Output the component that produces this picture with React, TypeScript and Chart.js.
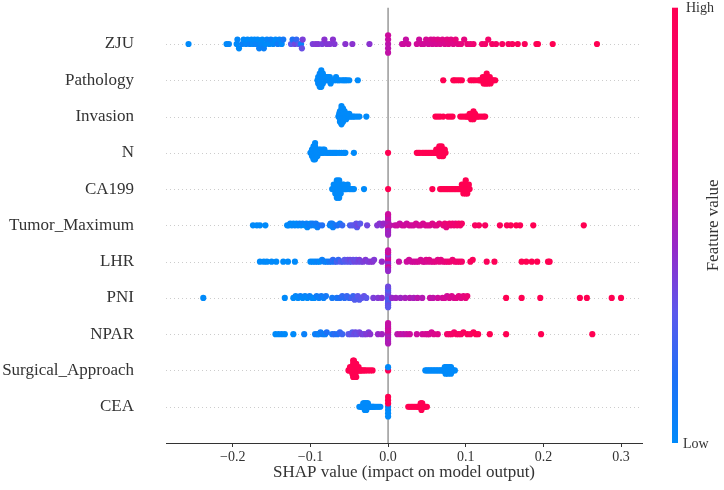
import React, { useEffect, useRef } from "react";
import { Chart, registerables } from "chart.js";
Chart.register(...registerables);

// rows listed from bottom (index 0) to top
const FEATURES = ["CEA", "Surgical_Approach", "NPAR", "PNI", "LHR", "Tumor_Maximum", "CA199", "N", "Invasion", "Pathology", "ZJU"];
const X_TICKS = [-0.2, -0.1, 0.0, 0.1, 0.2, 0.3];
const X_MIN = -0.286;
const X_MAX = 0.327;

// [SHAP value, normalized feature value (0 = low, 1 = high)]
const ZJU: [number, number][] = [
  [-0.257, 0], [-0.208, 0], [-0.205, 0.02],
  [-0.195, 0], [-0.194, 0.02], [-0.192, 0], [-0.188, 0.05], [-0.186, 0], [-0.183, 0.03], [-0.181, 0], [-0.178, 0.05], [-0.176, 0], [-0.174, 0.02],
  [-0.172, 0], [-0.170, 0.04], [-0.168, 0], [-0.166, 0.05], [-0.164, 0.02], [-0.162, 0], [-0.160, 0.06], [-0.158, 0], [-0.156, 0.03], [-0.153, 0],
  [-0.151, 0.05], [-0.148, 0.02], [-0.145, 0], [-0.142, 0.08], [-0.140, 0.03], [-0.137, 0], [-0.135, 0.1],
  [-0.125, 0.3], [-0.123, 0.15], [-0.120, 0.35], [-0.118, 0.2], [-0.115, 0.3], [-0.112, 0.05], [-0.110, 0.38], [-0.111, 0.33],
  [-0.097, 0.38], [-0.093, 0.4], [-0.090, 0.4], [-0.085, 0.38], [-0.082, 0.42], [-0.079, 0.4], [-0.075, 0.4], [-0.071, 0.42], [-0.069, 0.4],
  [-0.055, 0.42], [-0.046, 0.42], [-0.024, 0.42],
  [0, 0.55], [0, 0.58], [0, 0.55], [0, 0.6], [0, 0.57],
  [0.018, 0.58], [0.020, 0.6], [0.023, 0.58], [0.026, 0.6],
  [0.037, 0.62], [0.040, 0.6], [0.043, 0.63], [0.046, 0.62], [0.049, 0.65], [0.052, 0.62], [0.055, 0.66], [0.057, 0.64], [0.059, 0.68], [0.062, 0.65],
  [0.064, 0.7], [0.067, 0.66], [0.070, 0.7], [0.073, 0.68], [0.076, 0.72], [0.078, 0.7], [0.081, 0.72], [0.084, 0.7], [0.087, 0.75], [0.090, 0.72],
  [0.094, 0.75], [0.098, 0.74], [0.102, 0.78], [0.106, 0.76], [0.110, 0.8],
  [0.121, 0.82], [0.125, 0.85], [0.129, 0.85], [0.134, 0.88], [0.139, 0.87], [0.147, 0.9],
  [0.155, 0.9], [0.160, 0.92], [0.167, 0.95], [0.176, 0.95], [0.191, 0.95], [0.193, 1], [0.212, 1], [0.269, 1],
];

const PATHOLOGY: [number, number][] = [
  [-0.091, 0], [-0.090, 0], [-0.090, 0.02], [-0.089, 0], [-0.089, 0], [-0.088, 0], [-0.088, 0.03], [-0.088, 0], [-0.087, 0], [-0.087, 0],
  [-0.087, 0.02], [-0.086, 0], [-0.086, 0], [-0.086, 0], [-0.085, 0], [-0.085, 0.02], [-0.084, 0], [-0.084, 0],
  [-0.082, 0], [-0.081, 0], [-0.080, 0], [-0.079, 0], [-0.078, 0.02], [-0.077, 0], [-0.076, 0], [-0.075, 0], [-0.074, 0], [-0.073, 0],
  [-0.071, 0], [-0.069, 0], [-0.067, 0], [-0.066, 0], [-0.064, 0], [-0.062, 0],
  [-0.059, 0], [-0.057, 0], [-0.055, 0], [-0.053, 0], [-0.050, 0], [-0.039, 0],
  [0.071, 1], [0.084, 1], [0.086, 1], [0.089, 1], [0.092, 1], [0.095, 1], [0.106, 1], [0.109, 1], [0.112, 1],
  [0.116, 1], [0.118, 1], [0.119, 1], [0.121, 1], [0.122, 1], [0.123, 1], [0.124, 1], [0.125, 1], [0.125, 1], [0.126, 1], [0.126, 1],
  [0.127, 1], [0.127, 1], [0.128, 1], [0.128, 1], [0.129, 1], [0.130, 1], [0.131, 1], [0.132, 1], [0.134, 1], [0.136, 1], [0.138, 1],
];

const INVASION: [number, number][] = [
  [-0.064, 0], [-0.063, 0], [-0.063, 0], [-0.062, 0], [-0.062, 0], [-0.062, 0], [-0.061, 0], [-0.061, 0], [-0.061, 0], [-0.061, 0],
  [-0.060, 0], [-0.060, 0], [-0.060, 0], [-0.060, 0], [-0.059, 0], [-0.059, 0], [-0.059, 0], [-0.058, 0], [-0.058, 0], [-0.058, 0],
  [-0.057, 0], [-0.057, 0], [-0.056, 0], [-0.056, 0], [-0.055, 0], [-0.055, 0], [-0.054, 0], [-0.053, 0], [-0.052, 0], [-0.051, 0],
  [-0.050, 0], [-0.049, 0], [-0.047, 0], [-0.045, 0], [-0.043, 0], [-0.040, 0], [-0.037, 0], [-0.028, 0],
  [0.061, 1], [0.064, 1], [0.067, 1], [0.071, 1], [0.077, 1], [0.080, 1], [0.083, 1], [0.093, 1], [0.096, 1], [0.099, 1],
  [0.101, 1], [0.103, 1], [0.104, 1], [0.105, 1], [0.106, 1], [0.107, 1], [0.107, 1], [0.108, 1], [0.108, 1], [0.109, 1],
  [0.109, 1], [0.110, 1], [0.110, 1], [0.111, 1], [0.112, 1], [0.113, 1], [0.115, 1], [0.117, 1], [0.120, 1], [0.123, 1], [0.125, 1],
];

const N_STAGE: [number, number][] = [
  [-0.100, 0], [-0.099, 0], [-0.098, 0], [-0.098, 0], [-0.097, 0], [-0.097, 0], [-0.096, 0], [-0.096, 0], [-0.096, 0], [-0.095, 0],
  [-0.095, 0], [-0.095, 0], [-0.094, 0], [-0.094, 0], [-0.094, 0], [-0.093, 0], [-0.093, 0], [-0.092, 0], [-0.092, 0], [-0.091, 0],
  [-0.090, 0], [-0.089, 0], [-0.088, 0], [-0.087, 0], [-0.086, 0], [-0.085, 0], [-0.084, 0], [-0.083, 0], [-0.082, 0], [-0.080, 0],
  [-0.078, 0], [-0.076, 0], [-0.074, 0], [-0.072, 0], [-0.070, 0], [-0.068, 0], [-0.066, 0], [-0.063, 0], [-0.060, 0], [-0.057, 0],
  [-0.055, 0], [-0.044, 0],
  [0, 1],
  [0.037, 1], [0.039, 1], [0.041, 1], [0.044, 1], [0.046, 1], [0.048, 1], [0.050, 1], [0.052, 1], [0.054, 1], [0.056, 1],
  [0.058, 1], [0.060, 1], [0.061, 1], [0.062, 1], [0.063, 1], [0.064, 1], [0.065, 1], [0.065, 1], [0.066, 1], [0.066, 1],
  [0.067, 1], [0.067, 1], [0.068, 1], [0.068, 1], [0.069, 1], [0.069, 1], [0.070, 1], [0.070, 1], [0.071, 1], [0.072, 1], [0.073, 1], [0.074, 1],
];

const CA199: [number, number][] = [
  [-0.072, 0], [-0.071, 0], [-0.070, 0], [-0.069, 0], [-0.068, 0], [-0.068, 0], [-0.067, 0], [-0.067, 0], [-0.066, 0], [-0.066, 0],
  [-0.066, 0], [-0.065, 0], [-0.065, 0], [-0.065, 0], [-0.064, 0], [-0.064, 0], [-0.064, 0], [-0.063, 0], [-0.063, 0], [-0.062, 0],
  [-0.062, 0], [-0.061, 0], [-0.060, 0], [-0.059, 0], [-0.058, 0], [-0.057, 0], [-0.056, 0], [-0.055, 0], [-0.053, 0], [-0.052, 0],
  [-0.050, 0], [-0.048, 0], [-0.046, 0], [-0.044, 0], [-0.031, 0],
  [0, 1],
  [0.057, 1], [0.067, 1], [0.069, 1], [0.071, 1], [0.073, 1], [0.075, 1], [0.077, 1], [0.079, 1], [0.081, 1], [0.083, 1],
  [0.085, 1], [0.087, 1], [0.089, 1], [0.091, 1], [0.093, 1], [0.094, 1], [0.095, 1], [0.096, 1], [0.097, 1], [0.097, 1],
  [0.098, 1], [0.098, 1], [0.099, 1], [0.099, 1], [0.100, 1], [0.100, 1], [0.101, 1], [0.101, 1], [0.102, 1], [0.103, 1], [0.104, 1], [0.105, 1],
];

const TUMOR_MAXIMUM: [number, number][] = [
  [-0.174, 0], [-0.169, 0], [-0.165, 0], [-0.158, 0],
  [-0.130, 0], [-0.128, 0], [-0.126, 0.02], [-0.124, 0], [-0.122, 0], [-0.120, 0.03], [-0.118, 0], [-0.116, 0], [-0.114, 0.05], [-0.112, 0], [-0.110, 0.05],
  [-0.107, 0], [-0.105, 0.05], [-0.104, 0], [-0.102, 0.08], [-0.100, 0], [-0.099, 0.05], [-0.097, 0.1], [-0.095, 0.05], [-0.093, 0.1], [-0.091, 0.05],
  [-0.089, 0.1], [-0.085, 0.15],
  [-0.075, 0.05], [-0.074, 0.1], [-0.073, 0], [-0.072, 0.08], [-0.071, 0.05], [-0.068, 0.1], [-0.065, 0.15], [-0.062, 0.1], [-0.059, 0.2],
  [-0.049, 0.25], [-0.046, 0.3], [-0.043, 0.3], [-0.041, 0.32], [-0.040, 0.28], [-0.039, 0.35], [-0.036, 0.3],
  [-0.027, 0.35], [-0.014, 0.4], [-0.011, 0.42], [-0.008, 0.4], [-0.006, 0.45],
  [0, 0.45], [0, 0.5], [0, 0.55], [0, 0.48], [0, 0.6], [0, 0.52], [0, 0.45], [0, 0.58], [0, 0.5], [0, 0.55], [0, 0.47], [0, 0.6],
  [0.003, 0.55], [0.009, 0.58], [0.012, 0.6], [0.015, 0.58], [0.018, 0.6], [0.021, 0.62], [0.024, 0.6], [0.027, 0.62], [0.030, 0.63], [0.033, 0.62],
  [0.036, 0.65], [0.039, 0.63], [0.042, 0.65], [0.045, 0.66], [0.048, 0.65], [0.051, 0.68], [0.054, 0.66], [0.057, 0.7], [0.060, 0.68], [0.063, 0.7], [0.066, 0.72],
  [0.071, 0.75], [0.073, 0.78], [0.075, 0.72], [0.077, 0.75], [0.079, 0.8], [0.081, 0.78], [0.083, 0.82], [0.085, 0.8], [0.087, 0.78], [0.089, 0.82],
  [0.091, 0.85], [0.093, 0.82], [0.095, 0.88],
  [0.112, 0.9], [0.117, 0.92], [0.125, 0.9], [0.144, 0.95], [0.153, 0.95], [0.158, 0.97], [0.165, 1], [0.170, 0.97], [0.187, 1], [0.252, 1],
];

const LHR: [number, number][] = [
  [-0.165, 0], [-0.160, 0], [-0.156, 0], [-0.150, 0], [-0.144, 0], [-0.135, 0], [-0.129, 0], [-0.120, 0],
  [-0.100, 0], [-0.097, 0.02], [-0.094, 0], [-0.091, 0.05], [-0.088, 0], [-0.085, 0.05], [-0.082, 0.08], [-0.079, 0.05], [-0.076, 0.1],
  [-0.073, 0.12], [-0.071, 0.2], [-0.069, 0.15], [-0.066, 0.25], [-0.064, 0.2], [-0.061, 0.28], [-0.058, 0.25], [-0.056, 0.3], [-0.054, 0.28],
  [-0.052, 0.32], [-0.050, 0.3], [-0.049, 0.35], [-0.047, 0.3], [-0.045, 0.33], [-0.043, 0.35], [-0.041, 0.32], [-0.039, 0.35], [-0.037, 0.38],
  [-0.035, 0.35], [-0.032, 0.38], [-0.029, 0.4], [-0.026, 0.38], [-0.023, 0.4], [-0.020, 0.42], [-0.018, 0.4],
  [-0.008, 0.45],
  [0, 0.4], [0, 0.6], [0, 0.45], [0, 0.65], [0, 0.42], [0, 0.55], [0, 0.62], [0, 0.4], [0, 0.5], [0, 0.65], [0, 0.45], [0, 0.58],
  [0.014, 0.58], [0.024, 0.6], [0.027, 0.62], [0.030, 0.6], [0.033, 0.63], [0.036, 0.62], [0.039, 0.65], [0.042, 0.64], [0.045, 0.66], [0.047, 0.65],
  [0.049, 0.68], [0.051, 0.66], [0.053, 0.7], [0.055, 0.68], [0.058, 0.7], [0.061, 0.72], [0.064, 0.7], [0.066, 0.74], [0.068, 0.72], [0.071, 0.75],
  [0.074, 0.76], [0.077, 0.78], [0.080, 0.8], [0.083, 0.78], [0.086, 0.82], [0.089, 0.8], [0.092, 0.84], [0.095, 0.85],
  [0.106, 0.92], [0.109, 0.95], [0.127, 0.95], [0.137, 0.97], [0.172, 1], [0.178, 1], [0.185, 1], [0.192, 1], [0.206, 1], [0.208, 1],
];

const PNI: [number, number][] = [
  [-0.238, 0], [-0.133, 0], [-0.122, 0], [-0.119, 0.02], [-0.116, 0], [-0.113, 0.05], [-0.110, 0], [-0.107, 0.03], [-0.104, 0], [-0.101, 0.05],
  [-0.098, 0.02], [-0.095, 0], [-0.092, 0.08], [-0.089, 0.05], [-0.086, 0.1], [-0.083, 0.05], [-0.080, 0.1],
  [-0.072, 0.1], [-0.066, 0.12],
  [-0.062, 0.15], [-0.059, 0.2], [-0.056, 0.18], [-0.053, 0.22], [-0.050, 0.2], [-0.047, 0.25], [-0.045, 0.22], [-0.043, 0.28], [-0.041, 0.25],
  [-0.039, 0.3], [-0.037, 0.28], [-0.034, 0.3], [-0.031, 0.32], [-0.028, 0.3],
  [-0.019, 0.38], [-0.013, 0.4], [-0.008, 0.42],
  [0, 0.28], [0, 0.3], [0, 0.25], [0, 0.32], [0, 0.28], [0, 0.35], [0, 0.26], [0, 0.3], [0, 0.33], [0, 0.27], [0, 0.3], [0, 0.35],
  [0.005, 0.45], [0.010, 0.48], [0.016, 0.47], [0.022, 0.5], [0.028, 0.52], [0.033, 0.5], [0.038, 0.55], [0.044, 0.53], [0.054, 0.58], [0.058, 0.56],
  [0.064, 0.6], [0.070, 0.62], [0.073, 0.65], [0.076, 0.63], [0.079, 0.66], [0.082, 0.68], [0.085, 0.66], [0.088, 0.7], [0.091, 0.72], [0.094, 0.7],
  [0.097, 0.74], [0.100, 0.75], [0.102, 0.78],
  [0.152, 1], [0.172, 1], [0.196, 1], [0.247, 1], [0.256, 1], [0.288, 1], [0.300, 1],
];

const NPAR: [number, number][] = [
  [-0.145, 0], [-0.141, 0], [-0.137, 0.02], [-0.133, 0], [-0.122, 0], [-0.108, 0.05], [-0.094, 0.05], [-0.091, 0.1], [-0.089, 0.02], [-0.087, 0.08],
  [-0.084, 0.1], [-0.081, 0.05], [-0.079, 0.15],
  [-0.072, 0.12], [-0.069, 0.18], [-0.065, 0.15], [-0.062, 0.2], [-0.059, 0.22],
  [-0.051, 0.3], [-0.048, 0.32], [-0.046, 0.28], [-0.044, 0.33], [-0.042, 0.35], [-0.040, 0.32], [-0.037, 0.35], [-0.034, 0.38], [-0.031, 0.36],
  [-0.028, 0.4], [-0.025, 0.38], [-0.023, 0.42],
  [-0.013, 0.45], [-0.008, 0.48],
  [0, 0.5], [0, 0.55], [0, 0.52], [0, 0.6], [0, 0.5], [0, 0.58], [0, 0.54], [0, 0.6], [0, 0.5], [0, 0.56], [0, 0.52], [0, 0.58],
  [0.012, 0.55], [0.016, 0.58], [0.020, 0.55], [0.024, 0.58], [0.028, 0.6], [0.037, 0.6], [0.044, 0.62], [0.048, 0.65], [0.051, 0.63], [0.053, 0.66],
  [0.056, 0.65], [0.059, 0.68], [0.064, 0.7],
  [0.076, 0.85], [0.079, 0.82], [0.082, 0.88], [0.085, 0.85], [0.088, 0.9], [0.091, 0.88], [0.094, 0.9], [0.097, 0.92], [0.102, 0.95], [0.106, 0.92],
  [0.110, 0.95], [0.113, 1], [0.116, 0.97],
  [0.131, 1], [0.152, 1], [0.197, 1], [0.263, 1],
];

const SURGICAL_APPROACH: [number, number][] = [
  [-0.051, 1], [-0.050, 1], [-0.049, 1], [-0.048, 1], [-0.047, 1], [-0.047, 1], [-0.046, 1], [-0.046, 1], [-0.046, 1], [-0.045, 1],
  [-0.045, 1], [-0.045, 1], [-0.044, 1], [-0.044, 1], [-0.044, 1], [-0.044, 1], [-0.044, 1], [-0.044, 1], [-0.043, 1], [-0.043, 1],
  [-0.043, 1], [-0.042, 1], [-0.042, 1], [-0.042, 1], [-0.041, 1], [-0.041, 1], [-0.040, 1], [-0.040, 1], [-0.039, 1], [-0.038, 1],
  [-0.037, 1], [-0.036, 1], [-0.035, 1], [-0.033, 1], [-0.031, 1], [-0.029, 1], [-0.026, 1], [-0.023, 1], [-0.020, 1],
  [0, 1], [0, 0],
  [0.048, 0], [0.050, 0], [0.052, 0], [0.054, 0], [0.056, 0], [0.058, 0], [0.060, 0], [0.062, 0], [0.064, 0], [0.066, 0],
  [0.068, 0], [0.070, 0], [0.071, 0], [0.072, 0], [0.073, 0], [0.073, 0], [0.074, 0], [0.075, 0], [0.075, 0], [0.076, 0],
  [0.077, 0], [0.077, 0], [0.078, 0], [0.079, 0], [0.079, 0], [0.080, 0], [0.081, 0], [0.081, 0], [0.082, 0], [0.083, 0], [0.084, 0], [0.086, 0],
];

const CEA: [number, number][] = [
  [-0.037, 0], [-0.035, 0], [-0.034, 0], [-0.033, 0], [-0.032, 0], [-0.032, 0], [-0.031, 0], [-0.031, 0], [-0.030, 0], [-0.030, 0],
  [-0.030, 0], [-0.029, 0], [-0.029, 0], [-0.028, 0], [-0.028, 0], [-0.028, 0], [-0.027, 0], [-0.027, 0], [-0.026, 0], [-0.026, 0],
  [-0.025, 0], [-0.024, 0], [-0.023, 0], [-0.022, 0], [-0.021, 0], [-0.020, 0], [-0.019, 0], [-0.018, 0], [-0.016, 0], [-0.014, 0],
  [-0.012, 0], [-0.010, 0],
  [0, 0], [0, 1], [0, 0], [0, 1], [0, 0], [0, 1], [0, 0],
  [0.026, 1], [0.028, 1], [0.030, 1], [0.032, 1], [0.034, 1], [0.036, 1], [0.038, 1], [0.039, 1], [0.040, 1], [0.041, 1],
  [0.042, 1], [0.042, 1], [0.043, 1], [0.043, 1], [0.043, 1], [0.044, 1], [0.044, 1], [0.045, 1], [0.046, 1], [0.047, 1], [0.048, 1], [0.050, 1],
];

// bottom-to-top, matching FEATURES
const ROWS = [CEA, SURGICAL_APPROACH, NPAR, PNI, LHR, TUMOR_MAXIMUM, CA199, N_STAGE, INVASION, PATHOLOGY, ZJU];

// SHAP red-blue colormap stops
const CMAP: [number, [number, number, number]][] = [
  [0.0, [0, 138, 250]],
  [0.15, [30, 112, 246]],
  [0.3, [92, 88, 236]],
  [0.45, [150, 40, 200]],
  [0.6, [204, 12, 158]],
  [0.8, [240, 4, 112]],
  [1.0, [255, 0, 82]],
];

function cmap(t: number): string {
  const v = Math.max(0, Math.min(1, t));
  for (let i = 1; i < CMAP.length; i++) {
    if (v <= CMAP[i][0]) {
      const [t0, c0] = CMAP[i - 1];
      const [t1, c1] = CMAP[i];
      const f = (v - t0) / (t1 - t0);
      const c = c0.map((a, k) => Math.round(a + (c1[k] - a) * f));
      return `rgb(${c[0]},${c[1]},${c[2]})`;
    }
  }
  const c = CMAP[CMAP.length - 1][1];
  return `rgb(${c[0]},${c[1]},${c[2]})`;
}

// shap-style beeswarm layering
function swarm(vals: number[]): number[] {
  const n = vals.length;
  const mn = Math.min(...vals);
  const mx = Math.max(...vals);
  const nbins = 100;
  const quant = vals.map((v) => Math.round((nbins * (v - mn)) / (mx - mn + 1e-8)));
  const inds = vals.map((_, i) => i).sort((a, b) => quant[a] - quant[b] || a - b);
  const ys = new Array(n).fill(0);
  let layer = 0;
  let last = -1;
  for (const ind of inds) {
    if (quant[ind] !== last) layer = 0;
    ys[ind] = Math.ceil(layer / 2) * ((layer % 2) * 2 - 1);
    layer++;
    last = quant[ind];
  }
  const m = Math.max(...ys.map((y) => y + 1));
  return ys.map((y) => y * 0.9 * (0.4 / m));
}

const FONT = "'Liberation Serif', 'Times New Roman', serif";

const decorPlugin = {
  id: "decor",
  beforeDatasetsDraw(chart: any) {
    const { ctx, chartArea, scales } = chart;
    ctx.save();
    ctx.strokeStyle = "#cccccc";
    ctx.lineWidth = 1;
    ctx.setLineDash([1, 3]);
    FEATURES.forEach((_, i) => {
      const y = Math.round(scales.y.getPixelForValue(i)) + 0.5;
      ctx.beginPath();
      ctx.moveTo(chartArea.left, y);
      ctx.lineTo(chartArea.right, y);
      ctx.stroke();
    });
    ctx.setLineDash([]);
    const x0 = scales.x.getPixelForValue(0);
    ctx.strokeStyle = "#999999";
    ctx.lineWidth = 1.5;
    ctx.beginPath();
    ctx.moveTo(x0, chartArea.top);
    ctx.lineTo(x0, chartArea.bottom);
    ctx.stroke();
    ctx.restore();
  },
  afterDraw(chart: any) {
    const { ctx, chartArea } = chart;
    const cx = chartArea.right + 30;
    const w = 6;
    const top = chartArea.top;
    const bottom = chartArea.bottom;
    ctx.save();
    const g = ctx.createLinearGradient(0, bottom, 0, top);
    CMAP.forEach(([t, c]) => g.addColorStop(t, `rgb(${c[0]},${c[1]},${c[2]})`));
    ctx.fillStyle = g;
    ctx.fillRect(cx, top, w, bottom - top);
    ctx.fillStyle = "#333333";
    ctx.font = `14px ${FONT}`;
    ctx.textAlign = "left";
    ctx.textBaseline = "middle";
    ctx.fillText("High", cx + 14, top + 1);
    ctx.fillText("Low", cx + 11, bottom + 1);
    ctx.font = `17px ${FONT}`;
    ctx.translate(cx + 42, (top + bottom) / 2);
    ctx.rotate(-Math.PI / 2);
    ctx.textAlign = "center";
    ctx.fillText("Feature value", 0, 0);
    ctx.restore();
  },
};

export default function App() {
  const ref = useRef<HTMLCanvasElement | null>(null);
  useEffect(() => {
    if (!ref.current) return;
    const datasets = ROWS.map((pts, row) => {
      const ys = swarm(pts.map((p) => p[0]));
      return {
        label: FEATURES[row],
        data: pts.map((p, i) => ({ x: p[0], y: row + ys[i] })),
        backgroundColor: pts.map((p) => cmap(p[1])),
        pointRadius: 3.1,
        pointHoverRadius: 3.1,
        borderWidth: 0,
      };
    });
    const chart = new Chart(ref.current, {
      type: "scatter",
      data: { datasets },
      options: {
        animation: false,
        responsive: false,
        events: [],
        layout: { padding: { top: 7.7, right: 82, left: 0, bottom: 0 } },
        plugins: { legend: { display: false }, tooltip: { enabled: false } },
        scales: {
          x: {
            type: "linear",
            position: "bottom",
            min: X_MIN,
            max: X_MAX,
            afterBuildTicks: (s: any) => {
              s.ticks = X_TICKS.map((v) => ({ value: v }));
            },
            afterFit: (s: any) => {
              s.height = 47;
              s.paddingLeft = 0;
              s.paddingRight = 0;
            },
            grid: { display: true, drawOnChartArea: false, drawTicks: true, tickLength: 4, color: "#333333", lineWidth: 1 },
            border: { display: true, color: "#333333", width: 1 },
            ticks: {
              padding: 2,
              color: "#333333",
              font: { family: FONT, size: 14 },
              maxRotation: 0,
              callback: (v: any) => {
                const n = Number(v);
                if (Math.abs(n) < 1e-9) return "0.0";
                return (n < 0 ? "\u2212" : "") + Math.abs(n).toFixed(1);
              },
            },
            title: {
              display: true,
              text: "SHAP value (impact on model output)",
              color: "#333333",
              font: { family: FONT, size: 17 },
              padding: { top: 0, bottom: 7 },
            },
          },
          y: {
            type: "linear",
            position: "left",
            min: -1,
            max: 11,
            afterBuildTicks: (s: any) => {
              s.ticks = FEATURES.map((_, i) => ({ value: i }));
            },
            afterFit: (s: any) => {
              s.width = 166;
              s.paddingTop = 0;
              s.paddingBottom = 0;
            },
            grid: { display: false, drawTicks: false, tickLength: 0 },
            border: { display: false },
            ticks: {
              padding: 32,
              color: "#333333",
              font: { family: FONT, size: 17 },
              callback: (v: any) => FEATURES[Number(v)] ?? "",
            },
          },
        },
      },
      plugins: [decorPlugin],
    });
    return () => chart.destroy();
  }, []);
  return (
    <div style={{ position: "fixed", left: 0, top: 0, width: 724, height: 490, background: "#ffffff" }}>
      <canvas ref={ref} width={724} height={490} style={{ width: 724, height: 490, display: "block" }} />
    </div>
  );
}
